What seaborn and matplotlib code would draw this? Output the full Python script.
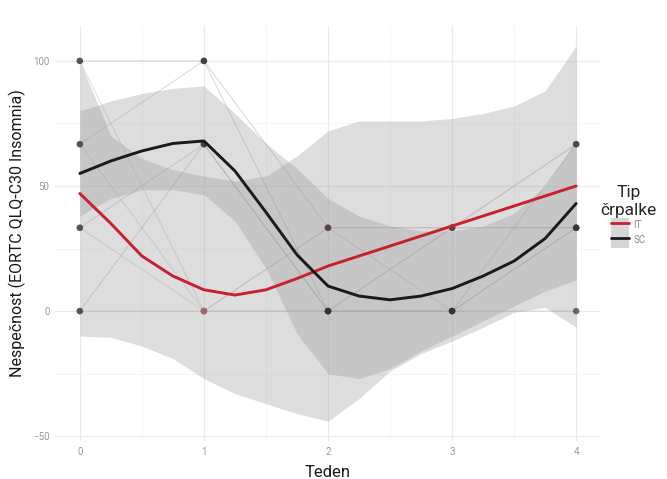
import numpy as np
import pandas as pd
import seaborn as sns
import matplotlib
matplotlib.use("Agg")
import matplotlib.pyplot as plt
from matplotlib.patches import Patch
from matplotlib.lines import Line2D
from matplotlib.ticker import MultipleLocator

# ---------------- data ----------------
weeks = [0, 1, 2, 3, 4]
group_names = ["IT", "SC"]

# individual patient trajectories (EORTC insomnia scores)
pat_IT1 = [100, 0, 0, 33.3, 66.7]
pat_IT2 = [33.3, 0, 33.3, 33.3, 66.7]
pat_IT3 = [0, 0, 0, 33.3, 33.3]
pat_IT4 = [66.7, 0, 33.3, 0, 33.3]
pat_SC1 = [100, 100, 33.3, 33.3, 33.3]
pat_SC2 = [66.7, 100, 0, 0, 66.7]
pat_SC3 = [33.3, 66.7, 0, 0, 33.3]
pat_SC4 = [0, 66.7, 0, 0, 0]

# smoothed fits and confidence bands
weeks_fit = [0, 0.25, 0.5, 0.75, 1, 1.25, 1.5, 1.75, 2, 2.25, 2.5, 2.75, 3, 3.25, 3.5, 3.75, 4]
it_fit = [47, 35, 22, 14, 8.5, 6.4, 8.5, 13, 18, 22, 26, 30, 34, 38, 42, 46, 50]
it_lo = [-10, -10.5, -14, -19, -27, -33, -37, -41, -44, -35, -24, -17, -12, -6.5, -0.5, 1.5, -6.5]
it_hi = [100, 70, 61, 56.5, 54, 52, 54, 62, 72, 76, 76, 76, 77, 79, 82, 88, 106]
sc_fit = [55, 60, 64, 67, 68, 56, 39.5, 22.5, 10, 6, 4.5, 6, 9, 14, 20, 29, 43]
sc_lo = [38, 45, 48.5, 48.5, 46.5, 36, 17, -9, -25, -27, -23, -16, -10, -4, 2, 8, 12.5]
sc_hi = [80, 84, 87, 89, 90, 79, 67, 57, 45, 38, 34, 32, 32, 34, 39, 50, 68]

y_ticks = [-50, 0, 50, 100]
x_ticks = [0, 1, 2, 3, 4]

# ---------------- tables ----------------
patients = {"IT1": ("IT", pat_IT1), "IT2": ("IT", pat_IT2), "IT3": ("IT", pat_IT3),
            "IT4": ("IT", pat_IT4), "SC1": ("SC", pat_SC1), "SC2": ("SC", pat_SC2),
            "SC3": ("SC", pat_SC3), "SC4": ("SC", pat_SC4)}
rows = []
for pid, (g, vals) in patients.items():
    for w, v in zip(weeks, vals):
        rows.append({"pid": pid, "group": g, "week": w, "score": v})
df_pat = pd.DataFrame(rows)

df_fit = pd.concat([
    pd.DataFrame({"week": weeks_fit, "fit": it_fit, "lo": it_lo, "hi": it_hi, "group": "IT"}),
    pd.DataFrame({"week": weeks_fit, "fit": sc_fit, "lo": sc_lo, "hi": sc_hi, "group": "SC"}),
])

palette = {"IT": "#c8202f", "SC": "#1a1a1a"}
line_pal = {"IT": "#d8aeb2", "SC": "#a8a8a8"}
point_pal = {"IT": "#a0646c", "SC": "#333333"}

# ---------------- plot ----------------
sns.set_theme(style="white")
plt.rcParams["font.family"] = ["Roboto", "DejaVu Sans"]

fig = plt.figure(figsize=(6.67, 4.79), dpi=100)
ax = fig.add_axes([0.0825, 0.079, 0.8185, 0.867])

# grid
ax.xaxis.set_minor_locator(MultipleLocator(0.5))
ax.yaxis.set_minor_locator(MultipleLocator(25))
ax.grid(True, which="major", color="#ebebeb", lw=0.9, zorder=0)
ax.grid(True, which="minor", color="#f3f3f3", lw=0.5, zorder=0)
ax.set_axisbelow(True)

# patient lines
sns.lineplot(data=df_pat, x="week", y="score", hue="group", units="pid",
             estimator=None, palette=line_pal, lw=0.7, alpha=0.45,
             legend=False, ax=ax, zorder=1)

# confidence bands
for g in group_names:
    d = df_fit[df_fit.group == g]
    ax.fill_between(d["week"], d["lo"], d["hi"], color="#999999", alpha=0.33,
                    lw=0, zorder=2)

# points (SC drawn last so they sit on top)
for g, a in [("IT", 0.6), ("SC", 0.7)]:
    sns.scatterplot(data=df_pat[df_pat.group == g], x="week", y="score",
                    color=point_pal[g], s=22, alpha=a, edgecolor="none",
                    legend=False, ax=ax, zorder=4)

# fitted curves
sns.lineplot(data=df_fit, x="week", y="fit", hue="group", palette=palette,
             lw=2.1, legend=False, ax=ax, zorder=5)

ax.set_xlim(-0.2, 4.2)
ax.set_ylim(-52, 114)
ax.set_xticks(x_ticks)
ax.set_yticks(y_ticks)
ax.tick_params(axis="both", which="both", length=0, labelsize=7, colors="#9a9a9a", pad=4)
for s in ax.spines.values():
    s.set_visible(False)

ax.set_xlabel("Teden", fontsize=12, color="#1a1a1a", labelpad=6)
ax.set_ylabel("Nespečnost (EORTC QLQ-C30 Insomnia)", fontsize=11.5, color="#1a1a1a", labelpad=5)

handles = [(Patch(facecolor="#d6d6d6", edgecolor="none"), Line2D([], [], color=palette[g], lw=2))
           for g in group_names]
leg = fig.legend(handles, group_names, title="Tip\nčrpalke", loc="center",
                 bbox_to_anchor=(0.942, 0.548), frameon=False, fontsize=7,
                 title_fontsize=12.5, handlelength=1.8, handleheight=2.0,
                 labelspacing=0.0, handletextpad=0.5, alignment="center")
leg.get_title().set_multialignment("center")
for t in leg.get_texts():
    t.set_color("#8a8a8a")

fig.savefig("out.png", dpi=100)
